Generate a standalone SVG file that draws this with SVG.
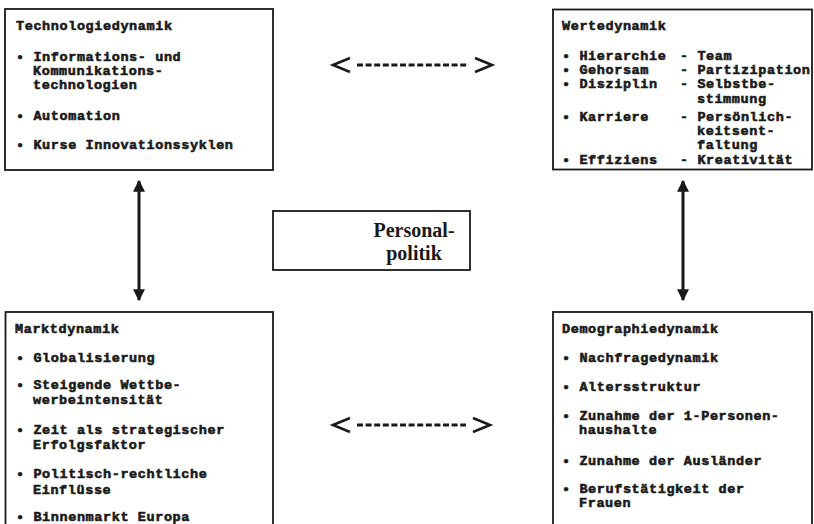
<svg xmlns="http://www.w3.org/2000/svg" width="814" height="524" viewBox="0 0 814 524">
<style>
.box{fill:#fff;stroke:#1a1a1a;stroke-width:1.8}
.t{font-family:"Liberation Mono","DejaVu Sans Mono",monospace;font-weight:bold;font-size:13.5px;letter-spacing:0.6px;fill:#1a1a1a;stroke:#1a1a1a;stroke-width:0.6}
.c{font-family:"Liberation Serif","Times New Roman",serif;font-weight:bold;font-size:20px;fill:#1a1a1a;text-anchor:middle}
.chev{fill:none;stroke:#1a1a1a;stroke-width:2.6;stroke-linejoin:miter}
.dash{stroke:#1a1a1a;stroke-width:2.8;stroke-dasharray:6 2.6}
.v{stroke:#1a1a1a;stroke-width:3}
</style>
<defs>
<marker id="ah" viewBox="0 0 10 10" refX="9" refY="5" markerWidth="4" markerHeight="4" orient="auto-start-reverse" markerUnits="strokeWidth">
<path d="M0,0 L10,5 L0,10 Z" fill="#1a1a1a"/>
</marker>
</defs>
<rect width="814" height="524" fill="#fff"/>
<g id="technologiedynamik">
<rect class="box" x="5" y="9" width="268" height="161"/>
<text class="t" x="16" y="30">Technologiedynamik</text>
<text class="t" x="16" y="61">• Informations- und</text>
<text class="t" x="33" y="75">Kommunikations-</text>
<text class="t" x="33" y="89">technologien</text>
<text class="t" x="16" y="120">• Automation</text>
<text class="t" x="16" y="149">• Kurse Innovationssyklen</text>
</g>
<g id="wertedynamik">
<rect class="box" x="553" y="9.5" width="259" height="160"/>
<text class="t" x="562" y="30">Wertedynamik</text>
<text class="t" x="562" y="60">• Hierarchie</text><text class="t" x="680" y="60">- Team</text>
<text class="t" x="562" y="74">• Gehorsam</text><text class="t" x="680" y="74">- Partizipation</text>
<text class="t" x="562" y="88">• Disziplin</text><text class="t" x="680" y="88">- Selbstbe-</text>
<text class="t" x="697" y="103">stimmung</text>
<text class="t" x="562" y="121">• Karriere</text><text class="t" x="680" y="121">- Persönlich-</text>
<text class="t" x="697" y="135">keitsent-</text>
<text class="t" x="697" y="149">faltung</text>
<text class="t" x="562" y="164">• Effiziens</text><text class="t" x="680" y="164">- Kreativität</text>
</g>
<g id="personalpolitik">
<rect class="box" x="273" y="211" width="197" height="59"/>
<text class="c" x="414" y="237">Personal-</text>
<text class="c" x="414" y="260">politik</text>
</g>
<g id="marktdynamik">
<rect class="box" x="5.5" y="312" width="267.5" height="230"/>
<text class="t" x="15" y="333">Marktdynamik</text>
<text class="t" x="16" y="362">• Globalisierung</text>
<text class="t" x="16" y="389">• Steigende Wettbe-</text>
<text class="t" x="33" y="404">werbeintensität</text>
<text class="t" x="16" y="434">• Zeit als strategischer</text>
<text class="t" x="33" y="449">Erfolgsfaktor</text>
<text class="t" x="16" y="478">• Politisch-rechtliche</text>
<text class="t" x="33" y="494">Einflüsse</text>
<text class="t" x="16" y="521">• Binnenmarkt Europa</text>
</g>
<g id="demographiedynamik">
<rect class="box" x="553" y="312" width="259" height="230"/>
<text class="t" x="562" y="333">Demographiedynamik</text>
<text class="t" x="562" y="362">• Nachfragedynamik</text>
<text class="t" x="562" y="391">• Altersstruktur</text>
<text class="t" x="562" y="420">• Zunahme der 1-Personen-</text>
<text class="t" x="579" y="434">haushalte</text>
<text class="t" x="562" y="465">• Zunahme der Ausländer</text>
<text class="t" x="562" y="493">• Berufstätigkeit der</text>
<text class="t" x="579" y="507">Frauen</text>
</g>
<g id="connectors">
<path class="chev" d="M350,58 L333,65 L350,72"/>
<line class="dash" x1="357" y1="65" x2="469" y2="65"/>
<path class="chev" d="M475,58 L492,65 L475,72"/>
<path class="chev" d="M350,418 L333,425 L350,432"/>
<line class="dash" x1="357" y1="425" x2="466" y2="425"/>
<path class="chev" d="M473,418 L490,425 L473,432"/>
<line class="v" x1="139" y1="181" x2="139" y2="300" marker-start="url(#ah)" marker-end="url(#ah)"/>
<line class="v" x1="683" y1="181" x2="683" y2="300" marker-start="url(#ah)" marker-end="url(#ah)"/>
</g>
</svg>
